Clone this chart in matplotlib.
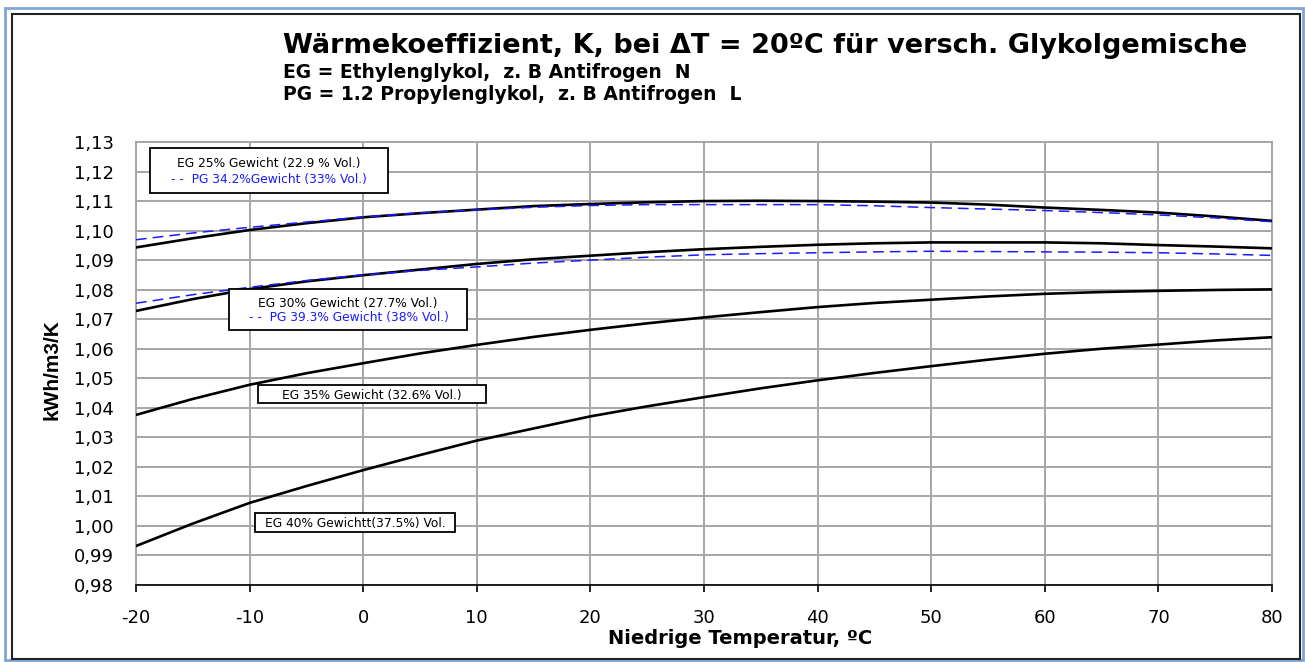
import matplotlib
matplotlib.use("Agg")
import matplotlib.pyplot as plt
from matplotlib.patches import Rectangle

# ---- data ----
temps = [-20, -15, -10, -5, 0, 5, 10, 15, 20, 25, 30, 35, 40, 45, 50, 55, 60, 65, 70, 75, 80]
eg25 = [1.0943, 1.0974, 1.1002, 1.1025, 1.1045, 1.1059, 1.1071, 1.1083, 1.1090, 1.1096, 1.1100,
        1.1101, 1.1100, 1.1098, 1.1095, 1.1088, 1.1078, 1.1070, 1.1061, 1.1048, 1.1033]
pg34 = [1.0969, 1.0992, 1.1011, 1.1029, 1.1046, 1.1060, 1.1070, 1.1079, 1.1085, 1.1088, 1.1088,
        1.1088, 1.1088, 1.1084, 1.1078, 1.1073, 1.1068, 1.1061, 1.1053, 1.1043, 1.1030]
eg30 = [1.0728, 1.0768, 1.0802, 1.0828, 1.0849, 1.0868, 1.0887, 1.0903, 1.0915, 1.0927, 1.0937,
        1.0945, 1.0952, 1.0957, 1.0960, 1.0960, 1.0960, 1.0957, 1.0951, 1.0946, 1.0940]
pg39 = [1.0754, 1.0783, 1.0808, 1.0831, 1.0850, 1.0865, 1.0877, 1.0890, 1.0900, 1.0910, 1.0918,
        1.0922, 1.0925, 1.0928, 1.0930, 1.0929, 1.0928, 1.0927, 1.0925, 1.0921, 1.0916]
eg35 = [1.0376, 1.0430, 1.0478, 1.0517, 1.0551, 1.0584, 1.0613, 1.0640, 1.0664, 1.0686, 1.0706,
        1.0724, 1.0741, 1.0755, 1.0766, 1.0777, 1.0786, 1.0792, 1.0796, 1.0799, 1.0801]
eg40 = [0.9932, 1.0008, 1.0078, 1.0135, 1.0189, 1.0240, 1.0289, 1.0330, 1.0371, 1.0405, 1.0436,
        1.0466, 1.0493, 1.0518, 1.0541, 1.0563, 1.0583, 1.0600, 1.0614, 1.0628, 1.0639]

x_ticks = [-20, -10, 0, 10, 20, 30, 40, 50, 60, 70, 80]
y_ticks = [0.98, 0.99, 1.00, 1.01, 1.02, 1.03, 1.04, 1.05, 1.06, 1.07, 1.08, 1.09, 1.10, 1.11, 1.12, 1.13]
y_labels = [f"{v:.2f}".replace(".", ",") for v in y_ticks]

title = "Wärmekoeffizient, K, bei ΔT = 20ºC für versch. Glykolgemische"
sub1 = "EG = Ethylenglykol,  z. B Antifrogen  N"
sub2 = "PG = 1.2 Propylenglykol,  z. B Antifrogen  L"
ylabel = "kWh/m3/K"
xlabel = "Niedrige Temperatur, ºC"

plt.rcParams["font.family"] = ["DejaVu Sans"]

W, H = 1305, 662
fig = plt.figure(figsize=(W / 100, H / 100), dpi=100)

def fx(px):
    return px / W

def fy(py):
    return 1 - py / H

# outer frames
fig.patches.append(Rectangle((fx(5), fy(660)), fx(1298), 652 / H, transform=fig.transFigure,
                             fill=False, edgecolor="#7fa6d6", linewidth=2.0))
fig.patches.append(Rectangle((fx(12), fy(659)), fx(1288), 645 / H, transform=fig.transFigure,
                             fill=False, edgecolor="#222222", linewidth=1.5))

ax = fig.add_axes([fx(136), fy(585), fx(1136), 443 / H])

ax.plot(temps, eg25, color="black", lw=1.9, zorder=3)
ax.plot(temps, pg34, color="#1a1aff", lw=1.1, dashes=(7, 4), zorder=4)
ax.plot(temps, eg30, color="black", lw=1.9, zorder=3)
ax.plot(temps, pg39, color="#1a1aff", lw=1.1, dashes=(7, 4), zorder=4)
ax.plot(temps, eg35, color="black", lw=1.9, zorder=3)
ax.plot(temps, eg40, color="black", lw=1.9, zorder=3)

ax.set_xlim(-20, 80)
ax.set_ylim(0.98, 1.13)
ax.set_xticks(x_ticks)
ax.set_xticklabels([str(t) for t in x_ticks], fontsize=13)
ax.set_yticks(y_ticks)
ax.set_yticklabels(y_labels, fontsize=13)
ax.grid(True, color="#a6a6a6", lw=1.4)
ax.set_axisbelow(True)
for s in ["top", "right", "left"]:
    ax.spines[s].set_color("#a6a6a6")
    ax.spines[s].set_linewidth(1.4)
ax.spines["bottom"].set_color("black")
ax.spines["bottom"].set_linewidth(1.2)
ax.tick_params(axis="x", direction="out", length=5, width=1.2, pad=12, colors="black")
ax.tick_params(axis="y", length=0, pad=16)

ax.set_xlabel(xlabel, fontsize=14, fontweight="bold", va="center")
ax.xaxis.set_label_coords((740 - 136) / 1136, -(638 - 585) / 443)
fig.text(fx(52), fy(370), ylabel, rotation=90, ha="center", va="center", fontsize=15,
         fontweight="bold", family=["Liberation Sans Narrow", "Liberation Sans", "DejaVu Sans"])

fig.text(fx(283), fy(46), title, fontsize=19.5, fontweight="bold", ha="left", va="center")
fig.text(fx(283), fy(73), sub1, fontsize=13.5, fontweight="bold", ha="left", va="center")
fig.text(fx(283), fy(94), sub2, fontsize=13.5, fontweight="bold", ha="left", va="center")

# label boxes
def box(x0, y0, x1, y1):
    r = Rectangle((fx(x0), fy(y1)), fx(x1 - x0), (y1 - y0) / H, transform=fig.transFigure,
                  facecolor="white", edgecolor="black", linewidth=1.3, zorder=10)
    fig.patches.append(r)

LF = 8.8
box(150, 148, 388, 193)
fig.text(fx(269), fy(164), "EG 25% Gewicht (22.9 % Vol.)", fontsize=LF, ha="center", va="center", zorder=11)
fig.text(fx(269), fy(180), "- -  PG 34.2%Gewicht (33% Vol.)", fontsize=LF, color="#1a1aff",
         ha="center", va="center", zorder=11)

box(229, 289, 467, 330)
fig.text(fx(348), fy(303), "EG 30% Gewicht (27.7% Vol.)", fontsize=LF, ha="center", va="center", zorder=11)
fig.text(fx(349), fy(317), "- -  PG 39.3% Gewicht (38% Vol.)", fontsize=LF, color="#1a1aff",
         ha="center", va="center", zorder=11)

box(258, 385, 486, 403)
fig.text(fx(372), fy(395), "EG 35% Gewicht (32.6% Vol.)", fontsize=LF, ha="center", va="center", zorder=11)

box(255, 513, 455, 532)
fig.text(fx(355), fy(523), "EG 40% Gewichtt(37.5%) Vol.", fontsize=LF, ha="center", va="center", zorder=11)

fig.savefig("out.png", dpi=100)
